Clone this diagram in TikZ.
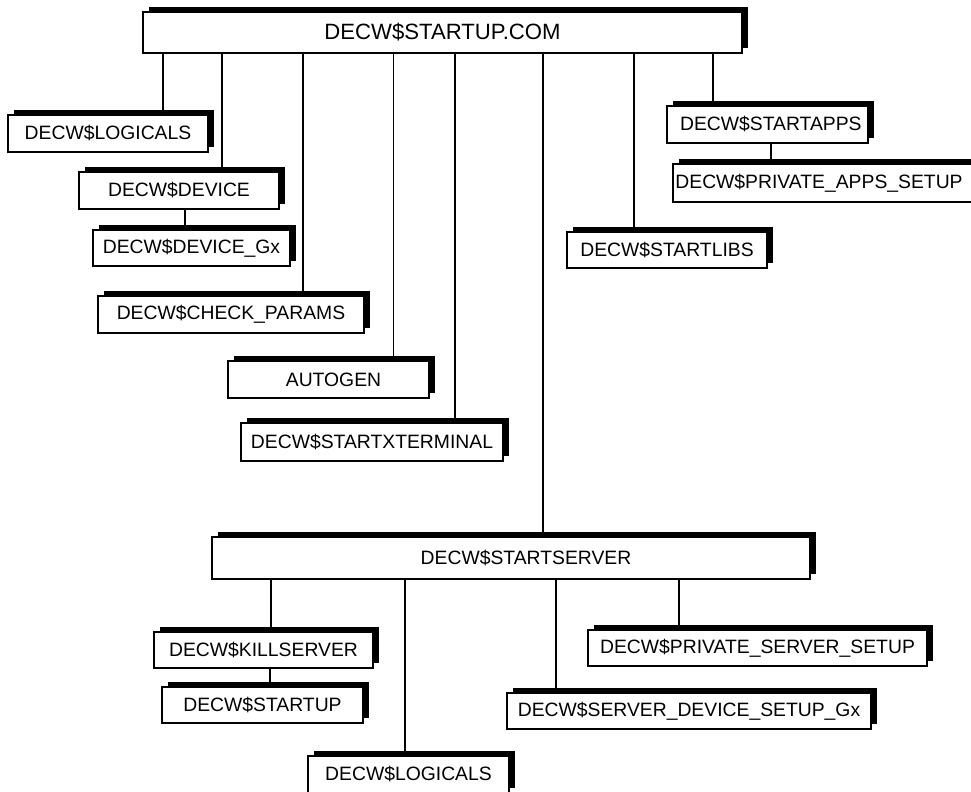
\documentclass[tikz,border=0pt]{standalone}
\usepackage{fontspec}
\setmainfont{Liberation Sans}
\usetikzlibrary{shadows}
\pgfdeclarelayer{background}
\pgfsetlayers{background,main}
\begin{document}
\begin{tikzpicture}[x=0.75pt,y=-0.75pt,
  box/.style={draw, fill=white, line width=1pt, inner sep=0pt,
    font=\fontsize{14.5}{16}\selectfont,
    drop shadow={shadow xshift=4.2pt, shadow yshift=3.6pt, fill=black, opacity=1}},
  wh/.style 2 args={minimum width=#1*0.75pt, minimum height=#2*0.75pt},
  conn/.style={line width=0.9pt}]
\useasboundingbox (0,0) rectangle (971,792);
% main boxes
\node[box, wh={599}{41}, font=\fontsize{16.6}{18}\selectfont] (top) at (442.5,32.5) {DECW\$STARTUP.COM};
\node[box, wh={200}{37}] (log1) at (108,133.5) {DECW\$LOGICALS};
\node[box, wh={200}{37}] (dev) at (179,190.5) {DECW\$DEVICE};
\node[box, wh={197}{36}] (devgx) at (191.5,248) {DECW\$DEVICE\_Gx};
\node[box, wh={266}{37}] (chk) at (231,314.5) {DECW\$CHECK\_PARAMS};
\node[box, wh={201}{37}] (auto) at (328.5,379.5) {\hspace*{7.5pt}AUTOGEN};
\node[box, wh={262}{38}] (xterm) at (372,442) {DECW\$STARTXTERMINAL};
\node[box, wh={201}{37}] (apps) at (767.5,124.5) {\hspace*{5pt}DECW\$STARTAPPS};
\node[box, wh={302}{38}] (papps) at (824,183) {DECW\$PRIVATE\_APPS\_SETUP\hspace*{7.5pt}};
\node[box, wh={200}{36}] (libs) at (667,250) {DECW\$STARTLIBS};
\node[box, wh={598}{42}] (server) at (511,558) {\hspace*{22.5pt}DECW\$STARTSERVER};
\node[box, wh={219}{36}] (kill) at (263.5,650) {DECW\$KILLSERVER};
\node[box, wh={201}{36}] (sup) at (262.5,705) {DECW\$STARTUP};
\node[box, wh={201}{37}] (log2) at (408.5,774.5) {DECW\$LOGICALS};
\node[box, wh={339}{36}] (pserv) at (757.5,648) {DECW\$PRIVATE\_SERVER\_SETUP};
\node[box, wh={364}{36}] (sdev) at (689,711) {DECW\$SERVER\_DEVICE\_SETUP\_Gx};
% connectors
\begin{pgfonlayer}{background}
\draw[conn] (top.south -| 163,0) -- (log1.north -| 163,0);
\draw[conn] (top.south -| 222,0) -- (dev.north -| 222,0);
\draw[conn] (top.south -| 303,0) -- (chk.north -| 303,0);
\draw[conn] (top.south -| 393.5,0) -- (auto.north -| 393.5,0);
\draw[conn] (top.south -| 455,0) -- (xterm.north -| 455,0);
\draw[conn] (top.south -| 543,0) -- (server.north -| 543,0);
\draw[conn] (top.south -| 634,0) -- (libs.north -| 634,0);
\draw[conn] (top.south -| 713,0) -- (apps.north -| 713,0);
\draw[conn] (dev.south -| 185,0) -- (devgx.north -| 185,0);
\draw[conn] (apps.south -| 771,0) -- (papps.north -| 771,0);
\draw[conn] (server.south -| 271,0) -- (kill.north -| 271,0);
\draw[conn] (kill.south -| 270,0) -- (sup.north -| 270,0);
\draw[conn] (server.south -| 405,0) -- (log2.north -| 405,0);
\draw[conn] (server.south -| 556,0) -- (sdev.north -| 556,0);
\draw[conn] (server.south -| 679,0) -- (pserv.north -| 679,0);
\end{pgfonlayer}
\end{tikzpicture}
\end{document}
